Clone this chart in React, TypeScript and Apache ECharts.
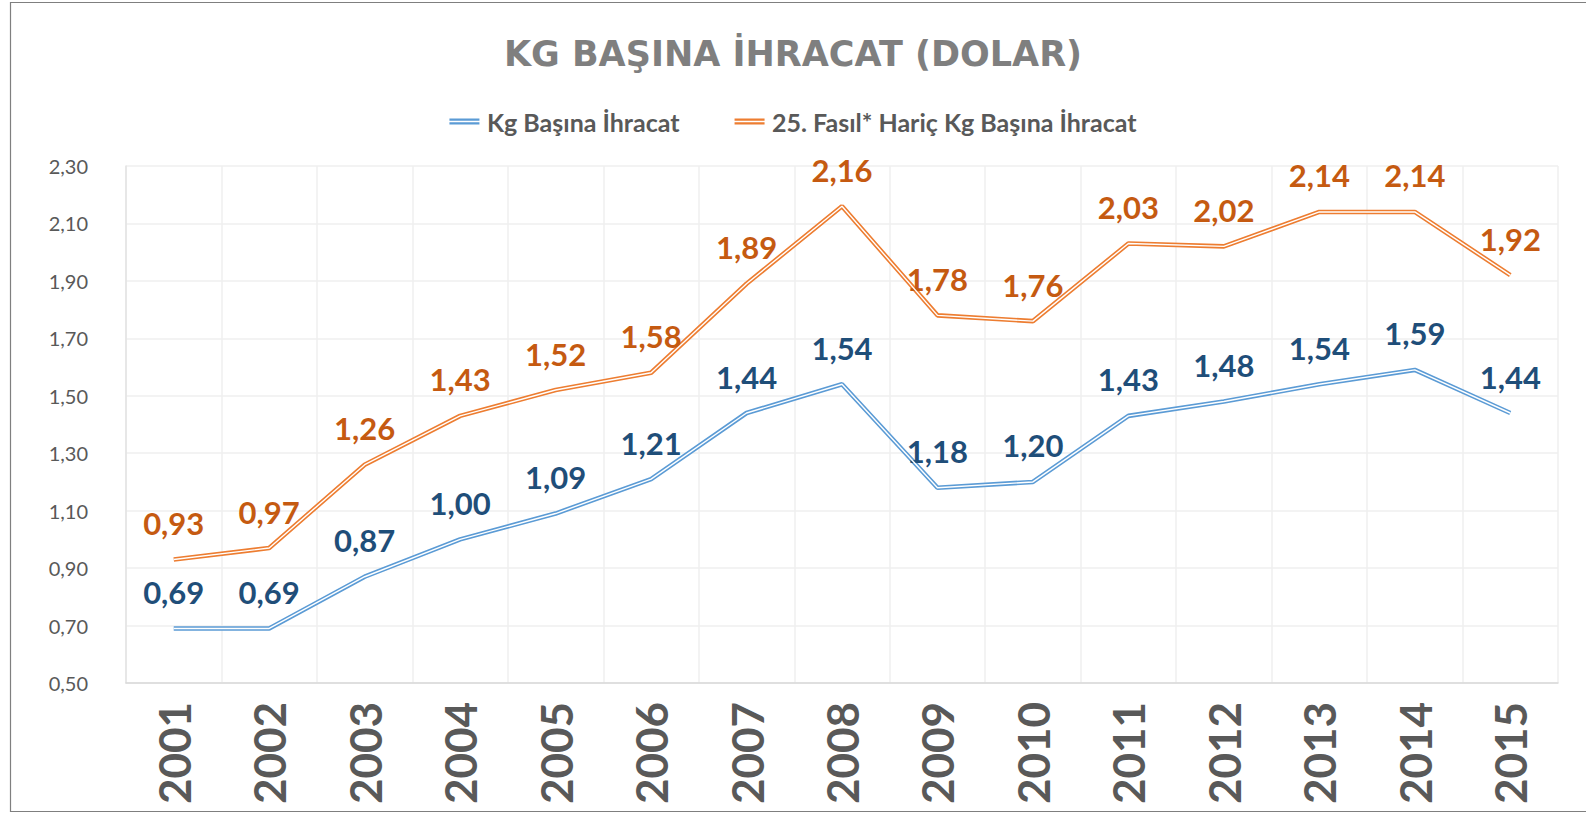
import React, { useEffect, useRef } from "react";
import * as echarts from "echarts";

const years = ["2001","2002","2003","2004","2005","2006","2007","2008","2009","2010","2011","2012","2013","2014","2015"];
const kgExport = [0.69,0.69,0.87,1.00,1.09,1.21,1.44,1.54,1.18,1.20,1.43,1.48,1.54,1.59,1.44];
const kgExportEx25 = [0.93,0.97,1.26,1.43,1.52,1.58,1.89,2.16,1.78,1.76,2.03,2.02,2.14,2.14,1.92];
const seriesNames = ["Kg Başına İhracat", "25. Fasıl* Hariç Kg Başına İhracat"];
const titleText = "KG BAŞINA İHRACAT (DOLAR)";

const FONT = "Lato, 'Open Sans', sans-serif";
const fmt = (v: number) => v.toFixed(2).replace(".", ",");
const doubleIcon = "path://M0,0H40V3H0Z M0,5H40V8H0Z";

export default function App() {
  const ref = useRef<HTMLDivElement>(null);
  useEffect(() => {
    if (!ref.current) return;
    const chart = echarts.init(ref.current, undefined, { renderer: "svg" });
    const mk = (name: string, data: number[], color: string, labelColor: string) => [
      {
        name,
        type: "line",
        data,
        symbol: "circle",
        symbolSize: 0,
        showSymbol: true,
        z: 2,
        lineStyle: { color, width: 4.6 },
        itemStyle: { color },
        label: {
          show: true,
          position: "top",
          distance: 21,
          color: labelColor,
          fontFamily: FONT,
          fontWeight: "bold",
          fontSize: 31,
          formatter: (p: any) => fmt(p.value),
        },
      },
      {
        name: name + "_inner",
        type: "line",
        data,
        symbol: "none",
        z: 3,
        silent: true,
        lineStyle: { color: "#ffffff", width: 1.4 },
        label: { show: false },
      },
    ];
    chart.setOption({
      animation: false,
      backgroundColor: "#ffffff",
      title: {
        text: titleText,
        left: "center",
        top: 31,
        textStyle: { color: "#7f7f7f", fontFamily: "'DejaVu Sans', sans-serif", fontWeight: "bold", fontSize: 35 },
      },
      legend: {
        data: seriesNames.map((n, i) => ({ name: n, icon: doubleIcon, itemStyle: { color: i === 0 ? "#5B9BD5" : "#ED7D31" } })),
        top: 104,
        left: "center",
        itemWidth: 37,
        itemHeight: 6,
        itemGap: 55,
        textStyle: { color: "#595959", fontFamily: FONT, fontWeight: "bold", fontSize: 25, padding: [0, 0, 0, -1] },
      },
      grid: { left: 126, right: 28, top: 166, bottom: 131, containLabel: false },
      xAxis: {
        type: "category",
        data: years,
        boundaryGap: true,
        axisLine: { show: true, lineStyle: { color: "#d9d9d9", width: 1.5 } },
        axisTick: { show: false },
        splitLine: { show: true, lineStyle: { color: "#efefef", width: 1.5 } },
        axisLabel: {
          rotate: 90,
          margin: 19,
          color: "#595959",
          fontFamily: FONT,
          fontWeight: "bold",
          fontSize: 44,
          interval: 0,
        },
      },
      yAxis: {
        type: "value",
        min: 0.5,
        max: 2.3,
        interval: 0.2,
        axisLine: { show: true, lineStyle: { color: "#e3e3e3", width: 1.5 } },
        axisTick: { show: false },
        splitLine: { show: true, lineStyle: { color: "#efefef", width: 1.5 } },
        axisLabel: {
          margin: 38,
          color: "#595959",
          fontFamily: FONT,
          fontSize: 20,
          formatter: (v: number) => fmt(v),
        },
      },
      graphic: [
        {
          type: "rect",
          shape: { x: 10.5, y: 2.5, width: 1600, height: 809 },
          style: { fill: "none", stroke: "#7f7f7f", lineWidth: 1.2 },
          silent: true,
        },
      ],
      series: [
        ...mk(seriesNames[0], kgExport, "#5B9BD5", "#1F4E79"),
        ...mk(seriesNames[1], kgExportEx25, "#ED7D31", "#C55A11"),
      ],
    });
    return () => chart.dispose();
  }, []);
  return <div ref={ref} style={{ position: "fixed", left: 0, top: 0, width: 1586, height: 814 }} />;
}
